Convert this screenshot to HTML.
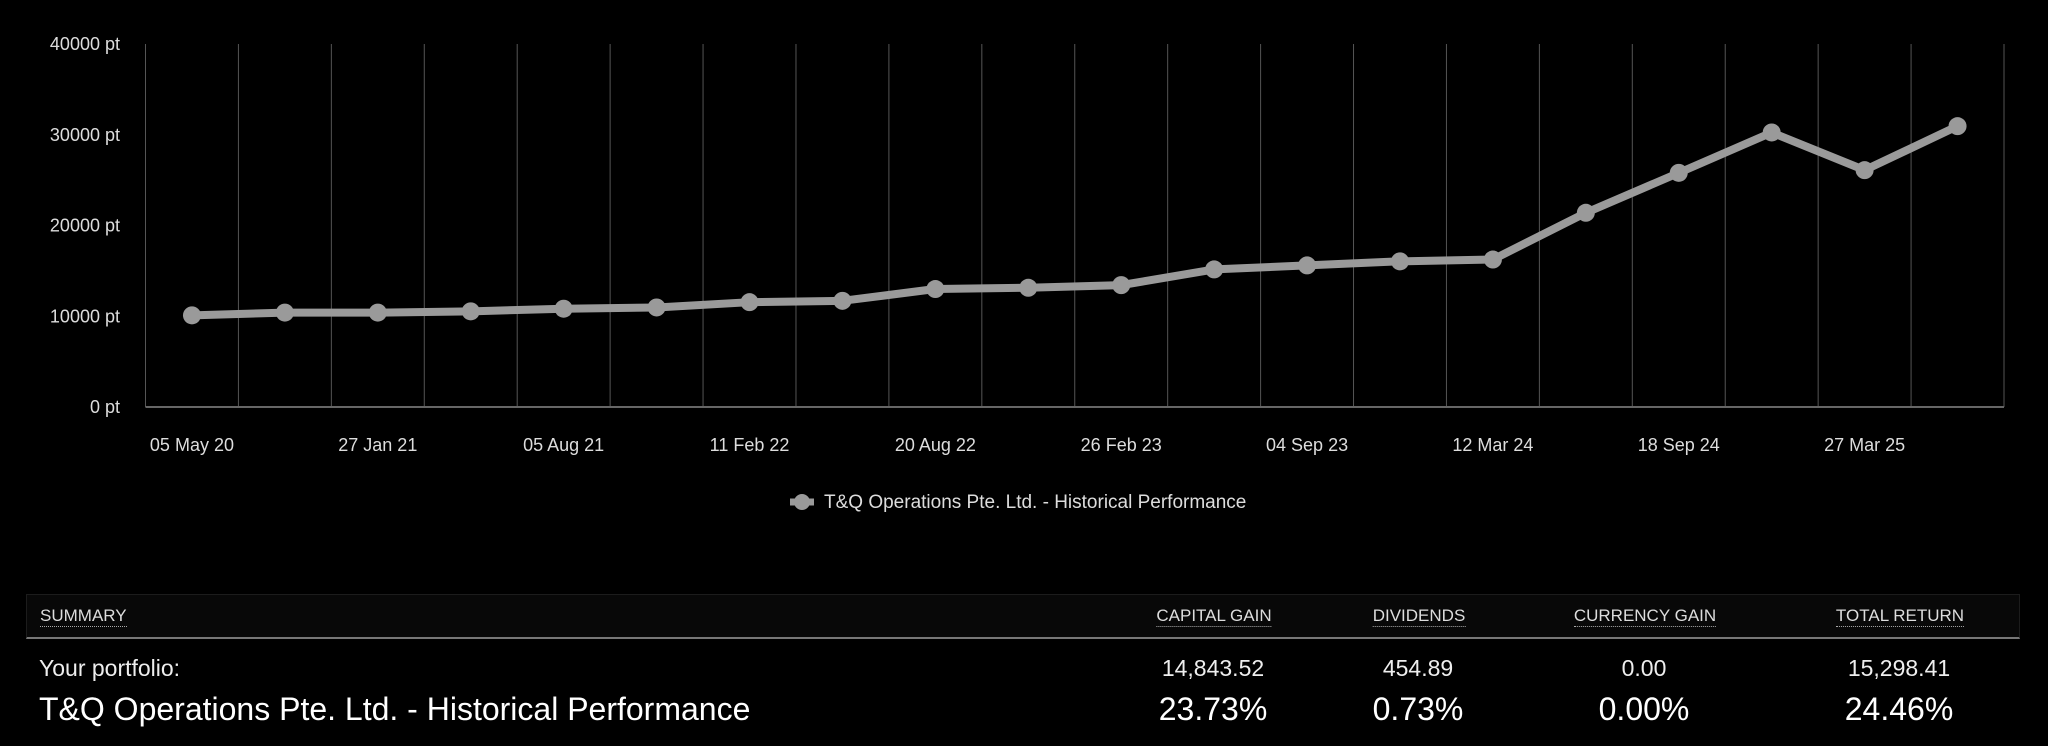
<!DOCTYPE html>
<html><head><meta charset="utf-8"><style>
body{margin:0;background:#000;width:2048px;height:746px;overflow:hidden;font-family:"Liberation Sans",sans-serif;color:#eee}
svg{position:absolute;left:0;top:0}
.tbl{position:absolute;left:26px;top:594px;width:1994px}
.hdr{height:42px;background:#080808;border:1px solid #1c1c1c;border-bottom:2px solid #777;position:relative}
.h{position:absolute;top:11px;font-size:17px;color:#ddd;border-bottom:1px dotted #aaa;transform:translateX(-50%);white-space:nowrap}
.c{position:absolute;transform:translateX(-50%);white-space:nowrap}
</style></head><body>
<svg id="chart" width="2048" height="560"></svg>
<div class="tbl">
 <div class="hdr">
  <span class="h" style="transform:none;left:13px">SUMMARY</span>
  <span class="h" style="left:1187px">CAPITAL GAIN</span>
  <span class="h" style="left:1392px">DIVIDENDS</span>
  <span class="h" style="left:1618px">CURRENCY GAIN</span>
  <span class="h" style="left:1873px">TOTAL RETURN</span>
 </div>
 <div style="position:relative;height:40px;font-size:23px;color:#eee">
  <span style="position:absolute;left:13px;top:16px">Your portfolio:</span>
  <span class="c" style="left:1187px;top:16px">14,843.52</span>
  <span class="c" style="left:1392px;top:16px">454.89</span>
  <span class="c" style="left:1618px;top:16px">0.00</span>
  <span class="c" style="left:1873px;top:16px">15,298.41</span>
 </div>
 <div style="position:relative;font-size:32px;color:#fff">
  <span style="position:absolute;left:13px;top:12px">T&amp;Q Operations Pte. Ltd. - Historical Performance</span>
  <span class="c" style="left:1187px;top:12px">23.73%</span>
  <span class="c" style="left:1392px;top:12px">0.73%</span>
  <span class="c" style="left:1618px;top:12px">0.00%</span>
  <span class="c" style="left:1873px;top:12px">24.46%</span>
 </div>
</div>
<script>
const categories=["05 May 20","","27 Jan 21","","05 Aug 21","","11 Feb 22","","20 Aug 22","","26 Feb 23","","04 Sep 23","","12 Mar 24","","18 Sep 24","","27 Mar 25",""];
const values=[10100,10400,10400,10540,10830,10970,11550,11700,13000,13140,13430,15160,15600,16050,16250,21400,25800,30250,26100,30950];
const yTicks=[0,10000,20000,30000,40000];
const yMax=40000;
const svg=document.getElementById('chart');
const NS='http://www.w3.org/2000/svg';
const L=145.5,R=2004,T=44,B=407;
const band=(R-L)/categories.length;
const x=i=>L+band*(i+0.5);
const y=v=>B-(v/yMax)*(B-T);
function mk(tag,at){const e=document.createElementNS(NS,tag);for(const k in at)e.setAttribute(k,at[k]);svg.appendChild(e);return e;}
for(let i=0;i<=categories.length;i++){
 const g=mk('line',{x1:L+band*i,x2:L+band*i,y1:T,y2:B,stroke:'#555','stroke-width':1});
 
 
}
const ax=mk('line',{x1:L,x2:R,y1:B,y2:B,stroke:'#666','stroke-width':2});


yTicks.forEach(t=>{
 const e=mk('text',{x:120,y:y(t)+6,'text-anchor':'end',fill:'#ddd','font-size':18});
 e.textContent=t+' pt';
 
 
});
categories.forEach((c,i)=>{
 if(!c)return;
 const e=mk('text',{x:x(i),y:451,'text-anchor':'middle',fill:'#ddd','font-size':18});
 e.textContent=c;
 
 
});
const pl=mk('polyline',{points:values.map((v,i)=>x(i)+','+y(v)).join(' '),fill:'none',stroke:'#9a9a9a','stroke-width':8,'stroke-linejoin':'round'});


values.forEach((v,i)=>{
 const c=mk('circle',{cx:x(i),cy:y(v),r:9,fill:'#9a9a9a'});
 
 
});
const lg=mk('line',{x1:790,x2:814,y1:502,y2:502,stroke:'#9a9a9a','stroke-width':7});


const lc=mk('circle',{cx:802,cy:502,r:8,fill:'#9a9a9a'});


const lt=mk('text',{x:824,y:508,fill:'#ddd','font-size':19});
lt.textContent='T&Q Operations Pte. Ltd. - Historical Performance';


</script>
</body></html>
